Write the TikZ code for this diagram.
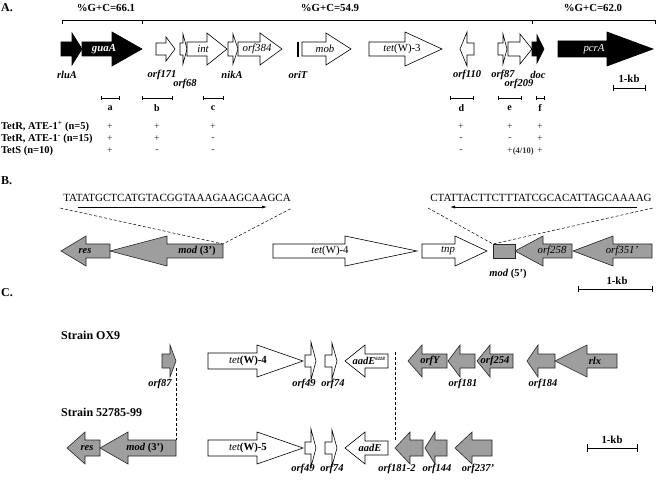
\documentclass[tikz,border=0pt]{standalone}
\usepackage{fontspec}
\setmainfont{Liberation Serif}
\usetikzlibrary{arrows.meta}
\newcommand\gArrow[7][wht]{\draw[#1] (#2,{#5-#6}) -- (#3,{#5-#6}) -- (#3,{#5-#7}) -- (#4,#5) -- (#3,{#5+#7}) -- (#3,{#5+#6}) -- (#2,{#5+#6}) -- cycle;}
\begin{document}
\begin{tikzpicture}[x=1pt,y=-1pt,
  blk/.style={draw=black,fill=black,line width=0.6pt},
  wht/.style={draw=black,fill=white,line width=0.6pt},
  gry/.style={draw=black!85,fill=black!38,line width=0.6pt},
  lab/.style={font=\fontsize{10.5}{12}\selectfont\bfseries\itshape,inner sep=0pt},
  inlab/.style={font=\fontsize{10.8}{12}\selectfont\itshape,inner sep=0pt},
  inlabw/.style={font=\fontsize{10.8}{12}\selectfont\bfseries\itshape,text=white,inner sep=0pt},
  hd/.style={font=\fontsize{10.8}{12}\selectfont\bfseries,inner sep=0pt},
  sec/.style={font=\fontsize{12}{14}\selectfont\bfseries,inner sep=0pt,anchor=west},
  tab/.style={font=\fontsize{10.5}{12}\selectfont\bfseries,inner sep=0pt,anchor=west},
  pm/.style={font=\fontsize{10}{11}\selectfont,inner sep=0pt,text=black!80},
  seq/.style={font=\fontsize{11}{12}\selectfont,inner sep=0pt},
  bar/.style={line width=0.6pt},
  dsh/.style={dashed,line width=0.5pt,dash pattern=on 3pt off 2pt},
  seqarr/.style={line width=0.6pt,-{Latex[length=5pt,width=3pt]}}]
\useasboundingbox[fill=white] (0,0) rectangle (656,481);

% ---------- A ----------
\node[sec] (secA) at (1,8) {A.};
\node[hd] (gc1) at (106,8) {\%G+C=66.1};
\node[hd] (gc2) at (330,8) {\%G+C=54.9};
\node[hd] (gc3) at (593,8) {\%G+C=62.0};
\draw[bar] (62,24) -- (62,20) -- (655,20) -- (655,24);
\draw[bar] (142,20) -- (142,24);
\draw[bar] (532,20) -- (532,24);

\gArrow[blk]{61}{72}{82}{49}{7}{16}
\gArrow[blk]{82}{112}{142}{49}{7}{17}
\gArrow{156}{166}{175}{49}{6}{12}
\gArrow{180}{183}{187}{49}{6}{15}
\gArrow{187}{207}{227}{49}{7}{16}
\gArrow{228}{233}{238}{49}{7}{15}
\gArrow{238}{260}{282}{49}{7}{16}
\draw[line width=1.8pt] (298,42) -- (298,57);
\gArrow{302}{326}{351}{49}{7}{16}
\gArrow{369}{405}{442}{49}{7}{17}
\gArrow{474}{467}{460}{49}{6}{17}
\gArrow{498}{503}{507}{49}{6}{15}
\gArrow{508}{520}{532}{49}{7}{15}
\gArrow[blk]{532}{537}{544}{49}{7}{14}
\gArrow[blk]{558}{607}{653}{49}{8}{17}

\node[inlabw] (guaA) at (104,49) {guaA};
\node[inlab] (int) at (203,49) {int};
\node[inlab] (orf384) at (257,49) {orf384};
\node[inlab] (mob) at (325,49) {mob};
\node[inlab] (tet3) at (402,49) {tet\upshape(W)-3};
\node[font=\fontsize{10.8}{12}\selectfont\itshape,text=white,inner sep=0pt] (pcrA) at (594,49) {pcrA};

\node[lab] (rluA) at (67,75) {rluA};
\node[lab] (orf171) at (162,75) {orf171};
\node[lab] (orf68) at (185,84) {orf68};
\node[lab] (nikA) at (232,75) {nikA};
\node[lab] (oriT) at (298,75) {oriT};
\node[lab] (orf110) at (467,75) {orf110};
\node[lab] (orf87) at (503,75) {orf87};
\node[lab] (orf209) at (519,84) {orf209};
\node[lab] (doc) at (538,75) {doc};

\node[hd] (kbA) at (629,79) {1-kb};
\draw[bar] (613,85) -- (613,91) (613,88) -- (645,88) (645,85) -- (645,91);

\foreach \xa/\xb/\l in {101/119/a,142/172/b,203/223/c,450/473/d,498/521/e,536/544/f}{
  \draw[bar] (\xa,96) -- (\xa,100) (\xa,98) -- (\xb,98) (\xb,96) -- (\xb,100);
  \node[font=\fontsize{10}{11}\selectfont\bfseries,inner sep=0pt] (seg\l) at ({(\xa+\xb)/2},108) {\l};
}

\node[tab] (r1) at (1,127) {TetR, ATE-1\textsuperscript{+} (n=5)};
\node[tab] (r2) at (1,139) {TetR, ATE-1\textsuperscript{-} (n=15)};
\node[tab] (r3) at (1,151) {TetS (n=10)};
\foreach \x/\s in {110/+,157/+,213/+,461/+,510/+,540/+}{\node[pm] at (\x,127) {\s};}
\foreach \x/\s in {110/+,157/+,213/-,461/-,510/-,540/+}{\node[pm] at (\x,139) {\s};}
\foreach \x/\s in {110/+,157/-,213/-,461/-,540/+}{\node[pm] at (\x,151) {\s};}
\node[pm,anchor=west] (e3) at (507,151) {+\bfseries\fontsize{8.5}{9}\selectfont(4/10)};

% ---------- B ----------
\node[sec] (secB) at (1,181) {B.};
\node[seq] (seq1) at (177,198) {TATATGCTCATGTACGGTAAAGAAGCAAGCA};
\node[seq] (seq2) at (541,198) {CTATTACTTCTTTATCGCACATTAGCAAAAG};
\coordinate (s1a) at (78,207); \coordinate (s1b) at (267,207);
\coordinate (s2a) at (637,207); \coordinate (s2b) at (450,207);
\draw[seqarr] (s1a) -- (s1b);
\draw[seqarr] (s2a) -- (s2b);

\gArrow[gry]{110}{86}{61}{251}{7}{15}
\gArrow[gry]{223}{167}{110}{251}{7}{15}
\gArrow{273}{345}{417}{251}{7}{15}
\gArrow{422}{455}{487}{251}{7}{15}
\draw[gry] (493,244) rectangle (515,258);
\gArrow[gry]{572}{543}{515}{251}{7}{15}
\gArrow[gry]{652}{613}{573}{251}{7}{15}

\coordinate (m3c) at (223,244); \coordinate (m5c) at (493,244);
\coordinate (d1) at (60,208); \coordinate (d2) at (292,208);
\coordinate (d3) at (428,208); \coordinate (d4) at (653,208);
\draw[dsh] (d1) -- (m3c) -- (d2);
\draw[dsh] (d3) -- (m5c) -- (d4);

\node[lab] (resB) at (85,251) {res};
\node[lab] (mod3B) at (197,251) {mod \upshape(3')};
\node[inlab] (tet4B) at (330,251) {tet\upshape(W)-4};
\node[inlab] (tnp) at (448,251) {tnp};
\node[inlab] (orf258) at (552,251) {orf258};
\node[inlab] (orf351) at (622,251) {orf351'};
\node[lab] (mod5) at (508,274) {mod \upshape(5')};
\node[hd] (kbB) at (617,281) {1-kb};
\draw[bar] (578,286) -- (578,292) (578,289) -- (652,289) (652,286) -- (652,292);

% ---------- C ----------
\node[sec] (secC) at (1,293) {C.};
\node[hd,anchor=west,font=\fontsize{12}{14}\selectfont\bfseries] (ox9) at (61,335) {Strain OX9};
\node[hd,anchor=west,font=\fontsize{12}{14}\selectfont\bfseries] (st52) at (61,412) {Strain 52785-99};

\gArrow[gry]{162}{170}{176}{361}{7}{16}
\gArrow{208}{257}{303}{361}{8}{16}
\gArrow{305}{311}{316}{361}{6}{19}
\gArrow{325}{332}{337}{361}{6}{18}
\gArrow{388}{365}{345}{361}{7}{16}
\gArrow[gry]{447}{422}{408}{361}{7}{16}
\gArrow[gry]{475}{460}{448}{361}{7}{16}
\gArrow[gry]{513}{490}{477}{361}{7}{16}
\gArrow[gry]{555}{538}{527}{361}{7}{16}
\gArrow[gry]{617}{587}{555}{361}{7}{16}

\node[inlab] (tet4C) at (248,361) {tet\upshape\bfseries(W)-4};
\node[lab] (aadE1) at (369,361) {aadE\textsuperscript{\fontsize{5}{6}\selectfont 6118}};
\node[lab] (orfY) at (430,361) {orfY};
\node[lab] (orf254) at (495,361) {orf254};
\node[lab] (rlx) at (595,361) {rlx};

\node[lab] (orf87C) at (160,384) {orf87};
\node[lab] (orf49a) at (304,384) {orf49};
\node[lab] (orf74a) at (333,384) {orf74};
\node[lab] (orf181) at (463,384) {orf181};
\node[lab] (orf184) at (543,384) {orf184};

\gArrow[gry]{100}{85}{67}{448}{8}{16}
\gArrow[gry]{176}{128}{100}{448}{8}{16}
\gArrow{208}{257}{303}{448}{8}{16}
\gArrow{305}{311}{316}{448}{6}{19}
\gArrow{325}{332}{337}{448}{6}{18}
\gArrow{388}{365}{345}{448}{7}{16}
\gArrow[gry]{423}{410}{395}{448}{8}{16}
\gArrow[gry]{447}{435}{425}{448}{8}{16}
\gArrow[gry]{492}{472}{455}{448}{8}{16}

\coordinate (o87) at (176,368); \coordinate (m3C) at (176,440);
\draw[dsh] (o87) -- (m3C);
\coordinate (dA) at (395,352); \coordinate (dB) at (395,440);
\draw[dsh] (dA) -- (dB);

\node[lab] (resC) at (87,448) {res};
\node[lab] (mod3C) at (145,448) {mod \upshape(3')};
\node[inlab] (tet5) at (248,448) {tet\upshape\bfseries(W)-5};
\node[lab] (aadE2) at (370,448) {aadE};

\node[lab] (orf49b) at (303,469) {orf49};
\node[lab] (orf74b) at (332,469) {orf74};
\node[lab] (orf1812) at (397,469) {orf181-2};
\node[lab] (orf144) at (437,469) {orf144};
\node[lab] (orf237) at (478,469) {orf237'};

\node[hd] (kbC) at (612,440) {1-kb};
\draw[bar] (587,444) -- (587,452) (587,448) -- (637,448) (637,444) -- (637,452);
\end{tikzpicture}
\end{document}
